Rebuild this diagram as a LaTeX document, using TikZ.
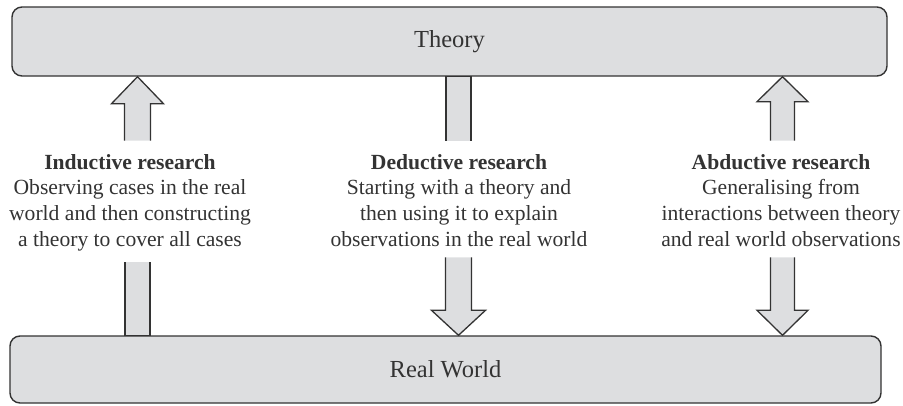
\documentclass[tikz,border=0pt]{standalone}
\usepackage{fontspec}
\setmainfont{Liberation Serif}
\usetikzlibrary{positioning}
\definecolor{boxgray}{HTML}{DDDEE0}
\definecolor{ink}{HTML}{333333}
\tikzset{plate/.style={draw=ink,fill=boxgray,line width=1.4pt,rounded corners=10pt,inner sep=0pt,text=ink,font=\fontsize{24.5}{28}\selectfont}}
\tikzset{blurb/.style={align=center,inner sep=0pt,text=ink,font=\fontsize{21.6}{25.8}\selectfont}}
\tikzset{blockarr/.style={draw=ink,fill=boxgray,line width=1.3pt,line join=miter}}

\begin{document}
\begin{tikzpicture}[x=1pt,y=-1pt]
  \useasboundingbox (0,0) rectangle (903,405);
  % the two levels
  \node[plate,minimum width=875pt,minimum height=69pt] (theory) at (449.5,41.5) {Theory};
  \node[plate,minimum width=871pt,minimum height=67pt] (world) at (445.5,369.5) {Real World};
  % columns
  \coordinate (ind) at (137.5,0);
  \coordinate (ded) at (458.5,0);
  \coordinate (abd) at (782.5,0);
  % inductive: up
  \filldraw[blockarr,shift={(theory.south -| ind)}] (-13,64) -- (-13,27) -- (-26,27) -- (0,0) -- (26,27) -- (13,27) -- (13,64);
  \filldraw[blockarr,shift={(world.north -| ind)}] (-12.5,-73) -- (-12.5,0) -- (12.5,0) -- (12.5,-73);
  % deductive: down
  \filldraw[blockarr,shift={(theory.south -| ded)}] (-12.5,64) -- (-12.5,0) -- (12.5,0) -- (12.5,64);
  \filldraw[blockarr,shift={(world.north -| ded)}] (-13,-78) -- (-13,-25) -- (-27,-25) -- (0,0) -- (27,-25) -- (13,-25) -- (13,-78);
  % abductive: both ways
  \filldraw[blockarr,shift={(theory.south -| abd)}] (-12,64) -- (-12,25) -- (-25.5,25) -- (0,0) -- (25.5,25) -- (12,25) -- (12,64);
  \filldraw[blockarr,shift={(world.north -| abd)}] (-12,-78) -- (-12,-25) -- (-25.5,-25) -- (0,0) -- (25.5,-25) -- (12,-25) -- (12,-78);
  % labels
  \node[blurb,anchor=north] (indtxt) at (130,154) {\textbf{Inductive research}\\Observing cases in the real\\world and then constructing\\a theory to cover all cases};
  \node[blurb,anchor=north] (dedtxt) at (459,154) {\textbf{Deductive research}\\Starting with a theory and\\then using it to explain\\observations in the real world};
  \node[blurb,anchor=north] (abdtxt) at (781,154) {\textbf{Abductive research}\\Generalising from\\interactions between theory\\and real world observations};
\end{tikzpicture}
\end{document}
